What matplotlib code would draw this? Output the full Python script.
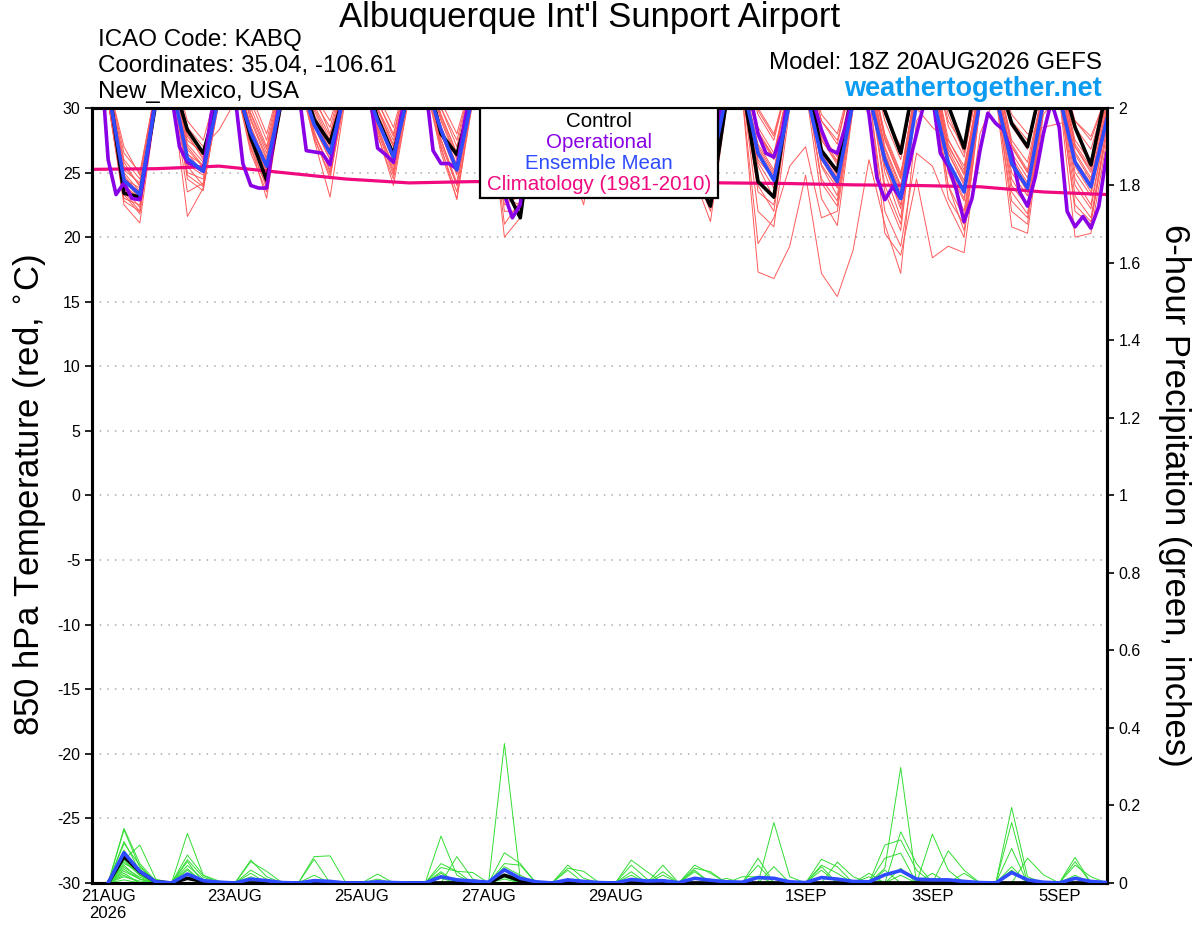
import numpy as np
import matplotlib
matplotlib.use('Agg')
import matplotlib.pyplot as plt
from matplotlib.patches import Rectangle

plt.rcParams['font.family'] = ['Liberation Sans', 'DejaVu Sans']
plt.rcParams['axes.unicode_minus'] = False

# ---- data ----
# 6-hourly temps from 20AUG 18Z: first value, then per day [00Z, 06Z, 12Z, 18Z]
control_temp = [33.5,
    32.0, 23.4, 23.1, 30.3,  32.5, 28.3, 26.5, 31.0,  32.5, 27.7, 24.4, 31.0,  33.0, 29.1, 27.3, 31.5,
    33.0, 29.2, 26.4, 31.5,  33.0, 28.0, 26.4, 31.0,  32.0, 24.0, 21.5, 30.5,  32.5, 27.5, 26.0, 31.0,
    32.5, 27.5, 26.5, 31.0,  32.0, 25.0, 22.4, 30.5,  32.0, 24.3, 23.1, 31.5,  33.0, 26.7, 25.1, 31.5,
    33.0, 29.8, 26.5, 33.0,  33.0, 30.2, 26.9, 34.0,  33.0, 28.8, 27.0, 32.5,  33.0, 28.5, 25.6, 31.5]

mean_temp = [33.0,
    31.5, 24.4, 23.3, 30.5,  32.0, 26.1, 25.1, 31.0,  32.0, 28.1, 25.5, 31.0,  32.5, 28.7, 26.5, 31.5,
    32.5, 29.0, 26.2, 31.5,  32.0, 28.3, 25.2, 31.0,  31.5, 25.5, 24.5, 31.0,  32.0, 27.0, 26.0, 31.0,
    32.0, 27.5, 26.5, 31.0,  32.0, 26.5, 25.0, 31.0,  32.0, 26.5, 24.4, 30.5,  31.5, 26.2, 24.3, 30.5,
    31.0, 26.0, 23.0, 30.3,  31.0, 25.8, 23.5, 30.5,  31.0, 25.7, 23.8, 30.5,  31.0, 25.8, 23.9, 29.1]

# 3-hourly operational run from 20AUG 18Z: [18Z, 21Z] then per day 00Z..21Z
operational_temp = [34.0, 34.5,
    26.0, 23.3, 24.2, 23.0, 22.9, 26.5, 31.0, 33.0,
    31.0, 27.0, 25.8, 25.5, 25.1, 29.5, 32.0, 33.0,
    31.0, 25.7, 24.0, 23.8, 23.8, 28.0, 32.0, 33.0,
    31.5, 26.7, 26.6, 26.5, 25.6, 29.0, 32.0, 33.0,
    32.0, 31.0, 26.9, 26.4, 25.8, 29.5, 32.0, 33.0,
    32.0, 26.7, 25.7, 25.7, 25.3, 29.0, 32.0, 33.0,
    31.5, 26.5, 23.3, 21.5, 22.5, 28.5, 32.0, 33.0,
    32.0, 29.0, 27.5, 26.8, 26.2, 29.5, 32.0, 33.0,
    32.0, 29.0, 27.6, 27.0, 26.5, 29.8, 32.0, 33.0,
    32.0, 28.0, 26.2, 25.5, 25.0, 29.0, 32.0, 33.0,
    33.0, 31.0, 28.0, 26.5, 26.2, 28.0, 31.5, 33.0,
    33.0, 30.5, 28.3, 26.8, 26.5, 28.5, 31.0, 32.5,
    29.5, 24.6, 22.9, 23.9, 23.0, 25.5, 28.0, 30.5,
    31.0, 26.5, 25.5, 23.7, 21.2, 23.0, 26.7, 29.6,
    28.8, 28.3, 26.5, 23.5, 22.4, 24.7, 28.0, 30.5,
    28.5, 22.0, 20.8, 21.6, 20.7, 22.4, 26.5]

# daily climatology from 20AUG 18Z
climatology = [25.25, 25.3, 25.5, 25.0, 24.5, 24.2, 24.3, 24.3, 24.3,
               24.25, 24.2, 24.15, 24.05, 24.0, 23.9, 23.5, 23.3]

member_temps = [
    [33.5, 31.0,23.5,22.0,30.5, 32.5,26.5,25.0,31.5, 33.0,28.0,25.0,31.5, 33.5,28.5,26.0,32.0,
     33.5,29.0,26.0,32.0, 33.0,28.0,25.0,31.5, 32.5,25.0,24.0,31.0, 33.0,27.0,26.0,31.5,
     33.0,27.5,26.5,31.5, 33.0,26.5,25.0,31.5, 32.5,26.0,24.5,31.0, 32.5,26.0,24.0,31.0,
     32.5,25.5,22.5,31.0, 32.5,25.5,23.0,31.0, 32.5,25.5,23.5,31.0, 32.5,25.5,23.5,30.0],
    [33.0, 30.5,24.0,23.0,30.8, 32.0,25.0,24.5,31.0, 32.5,27.5,24.5,31.0, 33.0,28.0,25.5,31.5,
     33.0,28.5,25.5,31.5, 32.5,27.5,24.0,31.0, 32.0,24.0,23.0,30.5, 32.5,26.5,25.0,31.0,
     32.5,27.0,25.8,31.0, 32.5,26.0,24.0,31.0, 32.0,25.5,23.0,30.5, 32.0,25.5,23.2,30.5,
     32.0,25.0,21.5,30.5, 32.0,25.0,22.0,30.5, 32.0,24.5,22.5,30.5, 32.0,24.5,22.5,29.0],
    [34.0, 31.5,25.0,23.5,31.0, 33.0,27.0,25.5,32.0, 33.5,29.0,26.0,32.0, 34.0,29.5,27.0,32.5,
     34.0,29.5,27.0,32.5, 33.5,29.0,26.0,32.0, 33.0,26.5,25.5,31.5, 33.5,28.0,27.0,32.0,
     33.5,28.5,27.5,32.0, 33.5,27.5,26.2,32.0, 33.0,28.0,26.0,32.0, 33.5,27.5,25.8,32.0,
     33.5,27.5,24.5,32.0, 33.5,27.0,25.0,32.0, 33.0,27.0,25.0,31.5, 33.0,27.0,25.0,30.5],
    [33.0, 30.5,22.5,21.1,30.0, 31.5,21.6,23.8,30.5, 32.0,26.5,23.5,30.5, 32.5,27.5,23.1,31.0,
     32.5,28.0,24.0,31.0, 32.0,26.5,23.0,30.5, 31.0,20.0,21.5,29.5, 32.0,25.5,23.5,30.5,
     32.0,26.0,24.0,30.5, 31.5,24.5,21.2,30.0, 31.0,17.3,16.8,19.3, 24.8,17.2,15.4,19.0,
     26.0,21.0,17.2,29.0, 31.0,24.0,20.5,30.0, 31.5,22.0,21.0,30.0, 31.5,22.0,21.0,28.5],
    [33.5, 31.0,24.5,23.8,31.0, 32.5,26.0,25.2,31.5, 33.0,28.5,25.8,31.5, 33.5,29.0,26.8,32.0,
     33.5,29.2,26.5,32.0, 33.0,28.5,25.5,31.5, 32.5,25.5,24.5,31.0, 33.0,27.2,26.2,31.5,
     33.0,27.6,26.6,31.5, 33.0,26.6,25.2,31.5, 32.5,26.8,24.8,31.5, 33.0,26.5,24.6,31.5,
     33.0,26.5,23.5,31.5, 33.0,26.5,24.0,31.5, 32.5,26.0,24.0,31.0, 32.5,26.0,24.2,29.5],
    [34.0, 32.0,26.0,24.5,31.5, 33.5,28.0,26.0,32.0, 34.0,30.5,27.5,32.5, 34.5,30.5,28.5,33.0,
     34.5,30.5,28.0,33.0, 34.0,30.0,27.5,32.5, 33.5,28.0,27.0,32.0, 34.0,29.0,28.0,32.5,
     34.0,29.5,28.5,32.5, 34.0,28.5,27.5,32.5, 33.5,29.5,27.5,32.5, 34.0,29.0,27.5,32.5,
     34.0,29.5,26.5,32.5, 34.0,29.0,27.0,32.5, 33.5,29.0,27.5,32.0, 33.5,29.0,27.5,31.0],
    [33.0, 30.5,23.0,22.5,30.5, 32.0,24.5,23.6,31.0, 32.5,27.0,23.0,31.0, 33.0,27.8,24.5,31.5,
     33.0,28.2,24.8,31.5, 32.5,27.0,22.9,31.0, 32.0,22.0,22.0,30.5, 32.5,26.0,22.5,31.0,
     32.5,26.5,23.8,31.0, 32.0,25.0,22.0,30.5, 31.5,22.0,20.8,30.0, 31.5,23.0,20.9,30.0,
     31.5,20.3,18.6,24.5, 18.4,19.3,18.8,28.0, 31.0,20.8,20.3,29.5, 31.0,20.0,20.3,27.5],
    [33.5, 31.0,24.8,23.2,31.0, 32.5,26.8,25.4,31.5, 33.0,28.2,25.5,31.5, 33.5,28.8,26.3,32.0,
     33.5,29.0,26.2,32.0, 33.0,28.2,25.3,31.5, 32.5,25.2,24.3,31.0, 33.0,27.0,26.0,31.5,
     33.0,27.4,26.4,31.5, 33.0,26.5,25.0,31.5, 32.5,26.5,24.4,31.5, 33.0,26.2,24.4,31.5,
     33.0,26.0,23.0,31.5, 33.0,25.8,23.5,31.5, 32.5,25.8,23.8,31.0, 32.5,25.8,23.9,29.5],
    [34.0, 31.5,25.5,24.0,31.0, 33.0,27.5,26.5,32.0, 33.5,29.5,26.5,32.0, 34.0,30.0,27.5,32.5,
     34.0,30.0,27.0,32.5, 33.5,29.5,26.5,32.0, 33.0,27.0,26.0,31.5, 33.5,28.2,27.2,32.0,
     33.5,28.6,27.6,32.0, 33.5,27.8,26.5,32.0, 33.0,28.5,26.5,32.0, 33.5,28.0,26.2,32.0,
     33.5,28.0,25.0,30.0, 28.5,27.5,25.5,31.5, 33.0,27.5,25.8,31.5, 33.0,27.5,25.8,30.5],
    [33.0, 30.5,23.8,22.3,30.5, 32.0,25.5,24.0,31.0, 32.5,27.8,24.2,31.0, 33.0,28.2,25.0,31.5,
     33.0,28.4,25.0,31.5, 32.5,27.6,24.2,31.0, 32.0,23.0,22.5,30.5, 32.5,26.2,24.5,31.0,
     32.5,26.6,25.0,31.0, 32.0,25.5,23.0,30.5, 31.5,24.0,22.0,30.5, 32.0,24.2,22.4,30.5,
     32.0,23.5,20.5,30.5, 32.0,23.0,21.0,30.5, 31.5,23.5,21.8,30.0, 31.5,23.2,21.5,28.5],
    [33.5, 31.0,24.2,23.6,31.0, 32.5,26.2,25.0,31.5, 33.0,28.4,25.2,31.5, 33.5,29.0,26.5,32.0,
     33.5,29.3,26.4,32.0, 33.0,28.4,25.0,31.5, 32.5,25.6,24.6,31.0, 33.0,27.3,26.3,31.5,
     33.0,27.8,26.8,31.5, 33.0,26.8,25.4,31.5, 32.5,27.0,25.0,31.5, 33.0,26.8,24.8,31.5,
     33.0,26.8,23.8,31.5, 33.0,26.5,24.2,31.5, 32.5,26.2,24.2,31.0, 32.5,26.4,24.4,30.0],
    [34.0, 32.0,26.5,25.0,31.5, 33.0,28.5,27.0,28.3, 30.5,30.0,27.0,32.5, 34.5,31.0,29.0,33.0,
     34.5,31.0,28.5,33.0, 34.0,30.5,28.0,32.5, 33.5,27.5,26.5,32.0, 34.0,29.5,28.0,32.5,
     34.0,29.8,28.8,32.5, 34.0,29.0,28.0,32.5, 33.5,30.0,28.0,32.5, 34.0,29.5,28.0,32.5,
     34.0,29.5,27.0,32.5, 34.0,29.5,26.5,32.5, 33.5,29.5,28.0,28.5, 28.8,29.0,27.8,31.0],
    [33.0, 30.5,22.8,22.0,30.5, 31.5,23.5,24.2,30.5, 32.0,26.8,24.0,31.0, 32.5,27.6,24.8,31.0,
     32.5,27.8,24.5,31.0, 32.0,26.8,23.5,30.5, 31.0,21.0,22.8,30.0, 32.0,25.8,24.0,30.5,
     32.0,26.2,24.5,30.5, 31.5,25.0,22.5,30.5, 31.0,19.5,21.5,25.5, 27.0,21.5,22.0,30.0,
     31.0,22.0,19.3,26.5, 25.5,22.5,20.0,30.0, 31.0,22.8,21.5,30.0, 31.0,22.5,21.2,28.0],
    [33.5, 31.0,24.6,23.4,31.0, 32.5,26.0,25.3,31.5, 33.0,28.6,25.6,31.5, 33.5,29.2,26.7,32.0,
     33.5,29.4,26.6,32.0, 33.0,28.6,25.6,31.5, 32.5,25.8,24.8,31.0, 33.0,27.4,26.4,31.5,
     33.0,27.8,26.9,31.5, 33.0,27.0,25.6,31.5, 32.5,27.2,25.2,31.5, 33.0,26.9,25.0,31.5,
     33.0,27.0,24.0,31.5, 33.0,26.8,24.4,31.5, 32.5,26.5,24.6,31.0, 32.5,26.6,24.6,30.0],
    [34.0, 31.5,25.2,24.2,31.0, 33.0,27.2,25.8,32.0, 33.5,29.2,26.2,32.0, 34.0,29.8,27.2,32.5,
     34.0,29.8,27.2,32.5, 33.5,29.2,26.2,32.0, 33.0,26.8,25.6,31.5, 33.5,28.0,27.0,32.0,
     33.5,28.4,27.4,32.0, 33.5,27.6,26.2,32.0, 33.0,28.2,26.2,32.0, 33.5,27.8,25.9,32.0,
     33.5,27.8,24.8,32.0, 33.5,27.6,25.2,32.0, 33.0,27.2,25.2,31.5, 33.0,27.2,25.4,30.5],
    [33.0, 30.5,23.3,21.8,30.5, 32.0,24.8,23.9,31.0, 32.5,27.2,23.8,31.0, 33.0,28.0,25.2,31.5,
     33.0,28.6,25.2,31.5, 32.5,27.2,24.0,31.0, 32.0,22.5,23.2,30.5, 32.5,26.0,25.0,31.0,
     32.5,26.4,25.4,31.0, 32.0,25.6,23.6,30.5, 31.5,23.5,22.5,30.5, 32.0,24.5,22.8,30.5,
     32.0,24.0,21.0,30.5, 32.0,24.0,21.5,30.5, 31.5,24.0,22.4,30.0, 31.5,24.0,22.2,29.0],
    [33.5, 31.0,24.0,22.8,30.8, 32.5,25.6,24.8,31.5, 33.0,28.0,25.0,31.5, 33.5,28.6,26.0,32.0,
     33.5,29.0,25.8,32.0, 33.0,28.0,24.8,31.5, 32.5,24.8,24.0,31.0, 33.0,26.8,25.6,31.5,
     33.0,27.2,26.0,31.5, 33.0,26.2,24.6,31.5, 32.5,25.8,23.8,31.0, 32.5,25.6,23.8,31.0,
     32.5,25.5,22.2,31.0, 32.5,25.2,22.8,31.0, 32.0,25.0,23.2,30.5, 32.0,25.0,23.2,29.5],
    [34.0, 32.0,27.0,24.8,31.5, 33.5,29.0,27.5,32.0, 34.0,31.0,28.0,32.5, 34.5,31.0,28.0,33.0,
     34.5,30.5,27.8,33.0, 34.0,30.0,27.0,32.5, 33.5,28.0,26.8,32.0, 34.0,29.0,28.0,32.5,
     34.0,29.5,28.2,32.5, 34.0,28.6,27.5,32.5, 33.5,29.8,27.8,32.5, 34.0,29.0,27.2,32.5,
     34.0,29.0,26.0,32.5, 34.0,28.6,26.2,32.5, 33.5,28.6,26.8,32.0, 33.5,28.5,26.8,31.0],
    [33.5, 31.0,24.4,23.0,31.0, 32.5,26.4,25.6,31.5, 33.0,28.3,25.4,31.5, 33.5,29.0,26.6,32.0,
     33.5,29.2,26.3,32.0, 33.0,28.3,25.2,31.5, 32.5,25.4,24.4,31.0, 33.0,27.2,26.1,31.5,
     33.0,27.6,26.5,30.5, 33.0,26.6,25.0,31.5, 32.5,26.6,24.6,31.5, 33.0,26.4,24.4,31.5,
     32.0,26.4,23.2,31.5, 33.0,26.0,23.6,31.5, 32.5,25.8,23.9,31.0, 32.5,25.9,24.0,29.5],
    [34.0, 31.5,25.8,23.9,31.0, 33.0,27.8,26.2,32.0, 33.5,29.6,26.8,32.0, 34.0,30.2,27.8,32.5,
     34.0,30.0,27.5,32.5, 33.5,29.4,26.5,32.0, 33.0,26.5,25.5,31.5, 33.5,28.2,27.2,32.0,
     33.5,28.6,27.6,30.5, 33.5,27.8,26.4,32.0, 32.5,28.0,26.2,32.0, 33.5,27.6,25.6,32.0,
     33.5,27.6,24.6,32.0, 33.5,27.2,24.8,31.5, 33.0,27.0,25.0,31.5, 33.0,27.0,25.2,30.5],
]

# 6-hour precipitation from 21AUG 00Z, per day [00Z, 06Z, 12Z, 18Z]
control_precip = [0,.068,.029,.003, 0,.012,.004,0, 0,0,0,0, 0,0,0,0, 0,0,0,0, 0,0,0,0,
                  0,.02,.006,0, 0,0,0,0, 0,0,0,0, 0,0,0,0, 0,0,0,0, 0,0,0,0,
                  0,0,0,0, 0,0,0,0, 0,0,0,0, 0,0,0,0]

mean_precip = [0,.078,.03,.003, 0,.023,.006,.002, 0,.01,.006,.001, 0,.006,.004,0,
               0,.003,.001,0, 0,.016,.008,.005, .002,.034,.012,.003, 0,.008,.004,.001,
               0,.009,.005,.006, .001,.012,.007,.003, .002,.014,.012,.003, .001,.014,.01,.004,
               .003,.021,.032,.01, .008,.008,.004,.001, 0,.027,.008,.002, 0,.012,.004,.001]

member_precip = [
    [0,.141,.05,.005, 0,.01,0,0, 0,0,0,0, 0,0,0,0, 0,0,0,0, 0,.012,0,0, 0,0,0,0, 0,0,0,0,
     0,0,0,0, 0,.046,.025,0, 0,0,0,0, 0,0,0,0, 0,0,0,0, 0,.083,.033,0, 0,0,0,0, 0,0,0,0],
    [0,.137,.04,.005, 0,.128,.02,0, 0,0,0,0, 0,0,0,0, 0,0,0,0, 0,0,0,0, 0,.033,0,0, 0,0,0,0,
     0,.029,0,.02, 0,0,0,0, 0,0,0,0, 0,0,0,0, 0,.064,.077,0, 0,0,0,0, 0,0,0,0, 0,0,0,0],
    [0,.107,.03,0, 0,0,0,0, 0,.059,.016,0, 0,0,0,0, 0,0,0,0, 0,0,0,0, 0,0,0,0, 0,.033,0,0,
     0,0,0,0, 0,0,0,0, 0,.064,0,0, 0,0,0,0, 0,0,0,0, 0,0,0,0, 0,.089,0,0, 0,0,0,0],
    [0,.102,.045,0, 0,.072,.02,.005, 0,0,0,0, 0,0,0,0, 0,0,0,0, 0,.05,.03,.027, 0,.078,.05,0, 0,0,0,0,
     0,0,0,0, 0,0,0,0, 0,0,.156,.016, 0,.033,0,0, 0,0,.132,.05, 0,0,0,0, 0,0,0,0, 0,0,0,0],
    [0,.085,.02,0, 0,.025,0,0, 0,0,0,0, 0,.061,0,0, 0,0,0,0, 0,0,0,0, 0,0,0,0, 0,0,0,0,
     0,0,0,0, 0,.038,.029,0, 0,0,0,0, 0,0,0,0, 0,0,0,0, 0,0,0,0, 0,0,.064,.021, 0,0,0,0],
    [0,.077,.035,0, 0,0,0,0, 0,.01,0,0, 0,0,0,0, 0,0,0,0, 0,0,.068,.01, 0,.01,0,0, 0,0,0,0,
     0,0,0,0, 0,0,0,0, 0,0,0,0, 0,.061,.042,0, 0,0,0,0, 0,0,0,0, 0,0,0,0, 0,0,0,0],
    [0,.07,.025,0, 0,.06,.015,0, 0,0,0,0, 0,0,0,0, 0,0,0,0, 0,.029,0,0, 0,.042,.02,0, 0,0,0,0,
     0,0,0,0, 0,0,0,0, 0,0,.042,0, 0,0,0,0, 0,.038,.298,0, .025,0,0,0, 0,.033,0,0, 0,.055,0,0],
    [0,.05,.03,0, 0,0,0,0, 0,.055,.03,0, 0,0,0,0, 0,0,0,0, 0,0,0,0, 0,0,0,0, 0,0,0,0,
     0,.059,.029,0, 0,0,0,0, 0,0,0,0, 0,0,0,0, 0,0,0,0, 0,0,0,0, 0,0,0,0, 0,0,0,0],
    [0,.04,.015,0, 0,.055,0,0, 0,0,0,0, 0,0,0,0, 0,.023,0,0, 0,0,0,0, 0,.02,0,0, 0,0,0,0,
     0,0,0,0, 0,.033,0,0, 0,0,0,0, 0,0,0,0, 0,0,0,0, .126,.033,0,0, 0,0,0,0, 0,0,0,0],
    [0,.016,.005,0, 0,.015,0,0, 0,0,0,0, 0,0,0,0, 0,0,0,0, 0,.121,.02,0, 0,0,0,0, 0,0,0,0,
     0,0,0,0, 0,0,0,0, 0,.046,0,0, 0,0,0,0, 0,0,.038,0, 0,0,0,0, 0,.195,.016,0, 0,0,0,0],
    [0,.06,.02,0, 0,0,0,0, 0,.033,.01,0, 0,0,0,0, 0,0,0,0, 0,0,0,0, 0,0,0,0, 0,.01,0,0,
     0,0,0,0, 0,0,0,0, 0,0,0,0, 0,.046,.025,0, 0,0,0,0, 0,0,0,0, 0,0,0,0, 0,0,0,0],
    [0,.03,.01,0, 0,0,0,0, 0,0,0,0, 0,.068,.07,0, 0,0,0,0, 0,0,0,0, 0,0,0,0, 0,0,0,0,
     0,.02,0,0, 0,0,0,0, 0,0,0,0, 0,0,0,0, .016,0,0,0, 0,0,0,0, 0,0,0,0, 0,0,0,0],
    [0,.06,.098,.01, 0,.045,.01,0, 0,0,0,0, 0,0,0,0, 0,0,0,0, 0,.04,.03,0, 0,.05,.046,0, 0,0,0,0,
     0,0,0,0, 0,0,0,0, 0,0,0,0, 0,0,0,0, 0,.098,.111,.033, 0,0,0,0, 0,0,0,0, 0,.02,0,0],
    [0,.045,.01,0, 0,0,0,0, 0,.025,0,0, 0,0,0,0, 0,0,0,0, 0,0,0,0, 0,.36,.01,0, 0,0,0,0,
     0,0,0,0, 0,0,0,0, 0,0,0,0, 0,0,0,0, 0,0,0,0, 0,0,0,0, 0,.156,0,0, 0,0,0,0],
    [0,.02,0,0, 0,0,0,0, 0,0,0,0, 0,0,0,0, 0,.01,0,0, 0,0,0,0, 0,0,0,0, 0,.046,.012,0,
     0,0,0,0, 0,0,0,0, 0,0,0,0, 0,.042,0,0, 0,0,0,0, 0,0,0,0, 0,0,0,0, 0,.066,0,0],
    [0,.055,.02,0, 0,.037,0,0, 0,0,0,0, 0,0,0,0, 0,0,0,0, 0,.025,0,0, 0,.015,0,0, 0,0,0,0,
     0,0,0,0, 0,.029,0,.012, 0,0,0,0, 0,0,0,0, 0,0,.02,0, 0,0,0,0, 0,.042,0,0, 0,0,0,0],
    [0,.035,.01,0, 0,0,0,0, 0,.016,0,0, 0,0,0,0, 0,0,0,0, 0,0,0,0, 0,0,0,0, 0,.038,.03,0,
     0,0,0,0, 0,0,0,0, 0,0,0,0, 0,0,.054,.016, 0,0,0,0, 0,0,0,0, 0,0,0,0, 0,0,0,0],
    [0,.008,0,0, 0,0,0,0, 0,0,0,0, 0,.02,0,0, 0,0,0,0, 0,0,0,0, 0,0,0,0, 0,0,0,0,
     0,.046,.01,0, 0,0,0,0, 0,0,0,0, 0,0,0,0, 0,.033,0,0, 0,0,0,0, 0,0,0,0, 0,0,0,0],
    [0,.065,.03,0, 0,.033,0,0, 0,0,0,0, 0,0,0,0, 0,0,0,0, 0,0,0,0, 0,0,0,0, 0,0,0,0,
     0,0,0,.046, 0,0,0,0, 0,0,0,0, 0,0,0,0, .025,0,0,0, 0,0,0,0, 0,0,0,0, 0,.046,.016,0],
    [0,.025,0,0, 0,0,0,0, 0,0,0,0, 0,0,0,0, 0,0,0,0, 0,0,0,0, 0,0,0,0, 0,0,0,0,
     0,0,0,.029, 0,0,0,0, .016,.016,0,0, 0,0,0,0, 0,0,0,0, 0,0,.025,0, 0,0,0,0, 0,0,0,0],
]

tick_labels = ['21AUG\n2026', '23AUG', '25AUG', '27AUG', '29AUG', '1SEP', '3SEP', '5SEP']
tick_days = [0, 2, 4, 6, 8, 11, 13, 15]          # days after 21AUG 00Z

legend_items = [('Control', 'black'), ('Operational', '#8A00E6'),
                ('Ensemble Mean', '#2E4BFF'), ('Climatology (1981-2010)', '#F0097F')]

# ---- time axes (hours after 20AUG 18Z) ----
hrs6 = np.arange(len(control_temp)) * 6
hrs3 = np.arange(len(operational_temp)) * 3
hrs_p = 6 + np.arange(len(mean_precip)) * 6
hrs_clim = np.arange(len(climatology)) * 24

fig = plt.figure(figsize=(12, 9.27), dpi=100)
ax = fig.add_axes([0.0769, 0.0475, 0.8454, 0.836])
ax2 = ax.twinx()

for v in range(-25, 30, 5):
    ax.axhline(v, color='#aaaaaa', lw=1.1, ls=(0, (1, 4)), zorder=0)

for row in member_temps:
    ax.plot(hrs6, row, color='#ff5a5a', lw=0.7, zorder=2)
ax.plot(hrs_clim, climatology, color='#F0097F', lw=2.3, zorder=3)
ax.plot(hrs6, control_temp, color='black', lw=2.6, zorder=4)
ax.plot(hrs3, operational_temp, color='#8A00E6', lw=2.6, zorder=5)
ax.plot(hrs6, mean_temp, color='#2E4BFF', lw=2.6, zorder=6)

for row in member_precip:
    ax2.plot(hrs_p, row, color='#33dd33', lw=0.7, zorder=2)
ax2.plot(hrs_p, control_precip, color='black', lw=2.6, zorder=3)
ax2.plot(hrs_p, mean_precip, color='#2E4BFF', lw=2.6, zorder=4)

ax.set_xlim(0, 384)
ax.set_ylim(-30, 30)
ax2.set_ylim(0, 2)
ax.set_yticks(range(-30, 31, 5))
ax.set_xticks([6 + 24 * d for d in tick_days])
ax.set_xticklabels(tick_labels)
pticks = [round(v, 1) for v in np.arange(0, 2.01, 0.2)]
ax2.set_yticks(pticks)
ax2.set_yticklabels([f'{v:g}' for v in pticks])

for a in (ax, ax2):
    for s in a.spines.values():
        s.set_linewidth(2.2)
    a.tick_params(direction='out', length=5, width=1.2, labelsize=11.5)
ax.tick_params(axis='x', length=0, pad=4, labelsize=12)

# legend box
ax2.add_patch(Rectangle((0.3822, 0.8839), 0.2346, 0.1161, transform=ax2.transAxes,
                        facecolor='white', edgecolor='black', lw=1.6, zorder=20))
for k, (label, col) in enumerate(legend_items):
    ax2.text(0.4995, 0.9832 - k * 0.0275, label, color=col, fontsize=14.8,
             ha='center', va='center', transform=ax2.transAxes, zorder=21)

# titles / labels
fig.text(0.4917, 0.9806, "Albuquerque Int'l Sunport Airport", fontsize=25, ha='center', va='center')
fig.text(0.0817, 0.9569, 'ICAO Code: KABQ', fontsize=17.4, ha='left', va='center')
fig.text(0.0817, 0.9288, 'Coordinates: 35.04, -106.61', fontsize=17.4, ha='left', va='center')
fig.text(0.0817, 0.9008, 'New_Mexico, USA', fontsize=17.4, ha='left', va='center')
fig.text(0.918, 0.932, 'Model: 18Z 20AUG2026 GEFS', fontsize=17.4, ha='right', va='center')
fig.text(0.918, 0.904, 'weathertogether.net', fontsize=19.5, fontweight='bold',
         color='#0B9CF2', ha='right', va='center')
fig.text(0.025, 0.466, r'850 hPa Temperature (red, $^{\circ}$C)', fontsize=25,
         rotation=90, ha='center', va='center')
fig.text(0.979, 0.466, '6-hour Precipitation (green, inches)', fontsize=25,
         rotation=270, ha='center', va='center')

fig.savefig('out.png', dpi=100)
